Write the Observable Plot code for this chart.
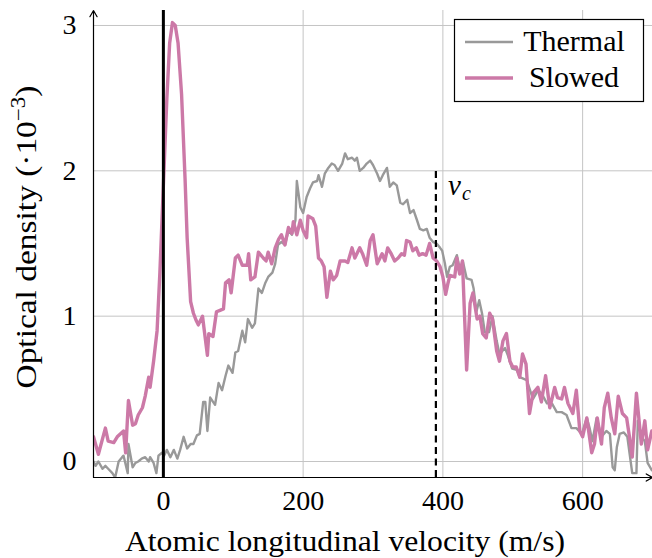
<!DOCTYPE html>
<html>
<head>
<meta charset="utf-8">
<script src="https://cdn.jsdelivr.net/npm/d3@7"></script>
<script src="https://cdn.jsdelivr.net/npm/@observablehq/plot@0.6"></script>
<style>
  html, body { margin: 0; padding: 0; background: #fff; overflow: hidden; }
  #chart svg { display: block; }
</style>
</head>
<body>
<div id="chart"></div>
<script>
// ---- data ----
const thermalV = [-100,-97,-93,-87,-83,-79,-73,-69,-64,-59,-57,-51,-50,-44,-40,-36,-31,-26,-21,-19,-14,-10,-7,-2,1,5,10,15,20,24,29,34,39,43,48,52,57,60,63,67,74,79,84,89,93,99,103,107,113,117,121,127,131,136,141,146,150,156,160,164,169,174,179,184,189,191,196,200,205,210,214,220,222,227,231,236,241,245,250,256,260,264,270,274,277,281,286,291,296,300,306,310,314,320,324,329,334,339,343,349,353,358,363,367,372,377,381,386,391,396,399,403,406,410,414,420,424,429,434,441,444,448,452,456,460,466,471,477,481,489,493,499,506,510,520,529,536,541,549,556,563,570,577,584,591,599,606,610,614,620,627,634,639,643,646,649,653,659,664,671,677,679,684,689,693,699];
const thermalOD = [0.0,-0.03,0.0,-0.05,-0.03,-0.05,-0.08,-0.11,0.0,0.03,0.04,-0.08,0.12,-0.04,-0.01,0.0,0.02,0.03,0.0,0.03,-0.01,-0.08,0.04,0.06,0.04,0.08,0.03,0.08,0.02,0.08,0.17,0.09,0.12,0.12,0.18,0.19,0.41,0.41,0.21,0.44,0.39,0.54,0.49,0.59,0.66,0.61,0.75,0.76,0.9,0.82,0.98,0.92,0.95,1.19,1.16,1.23,1.27,1.3,1.36,1.49,1.51,1.49,1.59,1.56,1.66,1.93,1.75,1.71,1.82,1.88,1.92,1.93,1.97,1.89,1.98,2.02,2.05,2.04,2.0,2.05,2.12,2.08,2.09,2.07,2.09,2.0,2.02,2.05,2.07,2.04,1.98,1.93,1.97,2.02,1.89,1.92,1.9,1.78,1.77,1.8,1.71,1.73,1.66,1.6,1.59,1.6,1.54,1.51,1.5,1.47,1.45,1.36,1.27,1.34,1.35,1.42,1.33,1.37,1.26,1.25,1.19,1.03,1.11,1.02,0.89,0.89,1.0,0.83,0.74,0.78,0.73,0.64,0.63,0.58,0.56,0.43,0.49,0.47,0.4,0.4,0.34,0.34,0.32,0.23,0.23,0.19,0.3,0.23,0.14,0.3,0.17,0.21,0.19,-0.04,-0.06,0.1,0.19,0.2,0.17,-0.08,-0.08,0.28,0.17,0.14,-0.01,-0.06];

const slowedV = [-100,-93,-83,-79,-71,-66,-57,-54,-50,-44,-40,-36,-30,-26,-21,-19,-14,-9,-5,0,5,9,13,17,21,26,31,34,39,43,47,50,56,63,65,71,76,81,86,89,94,97,103,107,113,120,122,125,131,136,143,147,150,155,160,165,169,174,179,184,186,191,196,200,205,207,214,218,222,226,230,234,239,243,248,253,260,264,270,274,281,285,291,296,300,306,313,317,321,326,331,336,341,345,348,353,357,362,366,371,376,381,386,391,396,400,404,407,410,417,420,424,428,434,439,443,449,453,457,462,467,471,477,481,486,491,496,500,505,510,514,519,524,529,536,541,547,553,560,564,570,574,579,586,591,596,600,606,613,617,621,627,631,636,641,646,651,657,663,667,671,677,684,689,693,699];
const slowedOD = [0.17,0.05,0.23,0.14,0.13,0.17,0.21,0.06,0.42,0.25,0.26,0.32,0.37,0.45,0.58,0.51,0.69,0.9,1.3,1.9,2.5,2.88,3.02,3.0,2.88,2.53,1.95,1.54,1.1,1.02,0.97,0.94,1.0,0.73,0.88,0.86,1.03,1.04,1.05,1.23,1.25,1.16,1.4,1.42,1.35,1.35,1.43,1.25,1.27,1.44,1.4,1.38,1.44,1.36,1.47,1.53,1.56,1.49,1.61,1.57,1.65,1.56,1.66,1.59,1.54,1.69,1.67,1.62,1.4,1.38,1.34,1.13,1.31,1.25,1.28,1.38,1.38,1.37,1.47,1.4,1.47,1.43,1.35,1.52,1.56,1.36,1.43,1.38,1.47,1.43,1.38,1.4,1.43,1.42,1.52,1.51,1.45,1.47,1.42,1.43,1.42,1.5,1.4,1.38,1.34,1.27,1.15,1.22,1.28,1.27,1.4,1.29,1.38,0.63,1.09,1.16,0.98,1.0,0.88,0.85,1.02,0.98,0.76,0.69,0.83,0.88,0.69,0.65,0.65,0.58,0.74,0.67,0.33,0.47,0.51,0.41,0.59,0.37,0.51,0.44,0.43,0.51,0.4,0.33,0.49,0.21,0.17,0.3,0.06,0.12,0.3,0.12,0.37,0.47,0.3,0.19,0.45,0.33,0.3,0.17,0.03,0.47,0.12,0.28,0.08,0.21];

const seriesNames = ["Thermal", "Slowed"];
const seriesColors = ["#999999", "#cc79a7"];
const xTicks = [0, 200, 400, 600];
const yTicks = [0, 1, 2, 3];
const vCritical = 390;       // dashed line v_c
const vcTop = 2.0;           // top of the dashed line
const xLabel = "Atomic longitudinal velocity (m/s)";

// ---- build tables ----
const thermal = thermalV.map((v, i) => ({v, od: thermalOD[i]}));
const slowed = slowedV.map((v, i) => ({v, od: slowedOD[i]}));

const FONT = "Liberation Serif, DejaVu Serif, serif";
const xDom = [-100, 700];
const yDom = [-0.11, 3.103];

const chart = Plot.plot({
  width: 652,
  height: 558,
  marginLeft: 93,
  marginRight: 0,
  marginTop: 10,
  marginBottom: 81,
  style: {fontFamily: FONT, fontSize: "28px", color: "black", background: "white", overflow: "visible"},
  x: {domain: xDom, label: null},
  y: {domain: yDom, label: null},
  marks: [
    Plot.gridX(xTicks, {stroke: "#c4c4c4", strokeOpacity: 1, strokeWidth: 1}),
    Plot.gridY(yTicks, {stroke: "#c4c4c4", strokeOpacity: 1, strokeWidth: 1}),
    Plot.line(thermal, {x: "v", y: "od", stroke: seriesColors[0], strokeWidth: 2.4, clip: true}),
    Plot.line(slowed, {x: "v", y: "od", stroke: seriesColors[1], strokeWidth: 3.4, clip: true}),
    Plot.ruleX([0], {stroke: "black", strokeWidth: 3}),
    Plot.ruleX([vCritical], {y1: yDom[0], y2: vcTop, stroke: "black", strokeWidth: 2.2, strokeDasharray: "7,4.5"}),
    Plot.text([vCritical], {x: d => d, y: 1.9, text: () => "v", dx: 12, textAnchor: "start", fontStyle: "italic", fontSize: 29, fontFamily: FONT}),
    Plot.text([vCritical], {x: d => d, y: 1.9, text: () => "c", dx: 26, dy: 8, textAnchor: "start", fontStyle: "italic", fontSize: 20, fontFamily: FONT}),
    Plot.arrow([0], {x1: xDom[0], y1: yDom[0], x2: xDom[0], y2: yDom[1], stroke: "black", strokeWidth: 1.2, headLength: 9, bend: 0}),
    Plot.arrow([0], {x1: xDom[0], y1: yDom[0], x2: xDom[1], y2: yDom[0], stroke: "black", strokeWidth: 1.2, headLength: 9, bend: 0}),
    Plot.axisX(xTicks, {tickSize: 0, tickPadding: 13, label: null, fontSize: 28, fontFamily: FONT, tickFormat: d3.format("d")}),
    Plot.axisY(yTicks, {tickSize: 0, tickPadding: 17, label: null, fontSize: 28, fontFamily: FONT, tickFormat: d3.format("d")})
  ]
});

document.getElementById("chart").appendChild(chart);

// ---- axis titles and legend (added to the same SVG) ----
const svg = d3.select(chart);

svg.append("text")
  .attr("x", 345).attr("y", 551)
  .attr("text-anchor", "middle")
  .style("font-family", FONT).style("font-size", "29px").attr("fill", "black")
  .attr("textLength", 440).attr("lengthAdjust", "spacingAndGlyphs")
  .text(xLabel);

const yl = svg.append("text")
  .attr("transform", "translate(36,237) rotate(-90)")
  .attr("text-anchor", "middle")
  .style("font-family", FONT).style("font-size", "29px").attr("fill", "black")
  .attr("textLength", 303).attr("lengthAdjust", "spacingAndGlyphs");
yl.append("tspan").text("Optical density (·10");
yl.append("tspan").attr("dy", -11).style("font-size", "20px").text("−3");
yl.append("tspan").attr("dy", 11).text(")");

const lg = svg.append("g");
lg.append("rect").attr("x", 454.5).attr("y", 19.5).attr("width", 189).attr("height", 82)
  .attr("fill", "white").attr("stroke", "black").attr("stroke-width", 1.2);
const legendRows = seriesNames.map((name, i) => ({name, color: seriesColors[i], w: i === 0 ? 2.4 : 3.4, y: i === 0 ? 42 : 78}));
legendRows.forEach(r => {
  lg.append("line").attr("x1", 465).attr("x2", 513).attr("y1", r.y).attr("y2", r.y)
    .attr("stroke", r.color).attr("stroke-width", r.w);
  lg.append("text").attr("x", 574).attr("y", r.y + 9).attr("text-anchor", "middle")
    .style("font-family", FONT).style("font-size", "30px").attr("fill", "black").text(r.name);
});
</script>
</body>
</html>
